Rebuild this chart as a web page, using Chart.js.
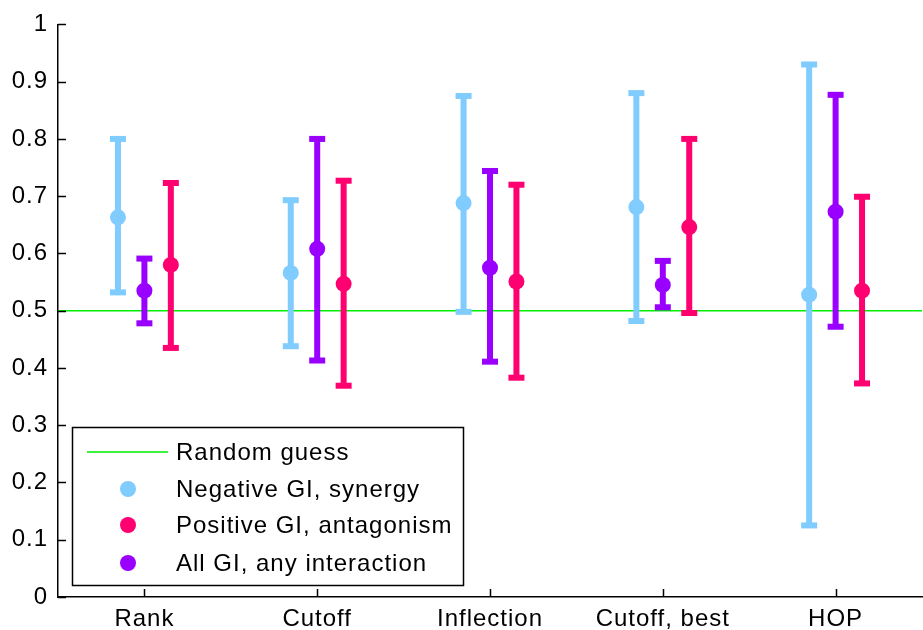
<!DOCTYPE html>
<html>
<head>
<meta charset="utf-8">
<script src="https://cdn.jsdelivr.net/npm/chart.js@4/dist/chart.umd.min.js"></script>
<style>
html,body{margin:0;padding:0;background:#fff;overflow:hidden}
#wrap{width:930px;height:630px;position:relative}
</style>
</head>
<body>
<div id="wrap"><canvas id="c" width="930" height="630"></canvas></div>
<script>
const categories=['Rank','Cutoff','Inflection','Cutoff, best','HOP'];
const yTicks=[0,0.1,0.2,0.3,0.4,0.5,0.6,0.7,0.8,0.9,1];
const randomGuess=0.5;

// series: mean, lower, upper
const negMean=[0.663,0.566,0.688,0.681,0.528];
const negLow =[0.532,0.438,0.498,0.482,0.125];
const negHigh=[0.800,0.693,0.875,0.880,0.930];

const posMean=[0.580,0.547,0.551,0.646,0.535];
const posLow =[0.435,0.369,0.383,0.496,0.373];
const posHigh=[0.723,0.727,0.720,0.800,0.699];

const allMean=[0.535,0.608,0.575,0.545,0.673];
const allLow =[0.478,0.413,0.411,0.506,0.472];
const allHigh=[0.591,0.800,0.744,0.587,0.877];

const FONT="'Liberation Sans', Arial, sans-serif";
const C_NEG='#80ccff', C_POS='#ff0070', C_ALL='#9900ff', C_RG='#00ee00';

function series(label,color,mean,lo,hi,off){
  return {label,type:'scatter',order:0,
    data:mean.map((v,i)=>({x:i+1+off,y:v})),
    lo:lo.map((v,i)=>({x:i+1+off,y:v})),
    hi:hi.map((v,i)=>({x:i+1+off,y:v})),
    backgroundColor:color,borderColor:color,pointRadius:8,pointHoverRadius:8,borderWidth:0};
}

const errPlugin={id:'err',
  beforeDraw(chart){ chart.ctx.letterSpacing='1px'; },
  beforeDatasetDraw(chart,args){
    const ds=chart.data.datasets[args.index]; if(!ds.lo) return;
    const {ctx,scales:{x,y}}=chart;
    ctx.save();ctx.fillStyle=ds.borderColor;
    ds.lo.forEach((p,i)=>{
      const px=x.getPixelForValue(p.x);
      const y1=y.getPixelForValue(p.y), y2=y.getPixelForValue(ds.hi[i].y);
      ctx.fillRect(px-3,y2,6,y1-y2);
      ctx.fillRect(px-8,y2-3,16,6);
      ctx.fillRect(px-8,y1-3,16,6);
    });
    ctx.restore();
  },
  afterDraw(chart){
    const {ctx,chartArea:{left,right,top,bottom},scales:{x,y}}=chart;
    ctx.save();
    // inward ticks
    ctx.strokeStyle='#000';ctx.lineWidth=1.5;ctx.beginPath();
    yTicks.forEach(t=>{const py=Math.round(y.getPixelForValue(t))+0.5;ctx.moveTo(left,py);ctx.lineTo(left+8,py);});
    categories.forEach((c,i)=>{const px=Math.round(x.getPixelForValue(i+1))+0.5;ctx.moveTo(px,bottom);ctx.lineTo(px,bottom-8);});
    ctx.stroke();
    // legend
    const lx=72,ly=427,lw=391,lh=158;
    ctx.fillStyle='#fff';ctx.fillRect(lx,ly,lw,lh);
    ctx.strokeStyle='#000';ctx.lineWidth=1.5;ctx.strokeRect(lx+0.5,ly+0.5,lw,lh);
    const rows=[452,489,525,563];
    ctx.font='24px '+FONT;ctx.textBaseline='middle';ctx.textAlign='left';ctx.letterSpacing='1px';
    chart.data.datasets.forEach((ds,i)=>{
      const ry=rows[i];
      if(ds.lo){
        ctx.fillStyle=ds.borderColor;ctx.beginPath();ctx.arc(128,ry,8,0,Math.PI*2);ctx.fill();
      }else{
        ctx.strokeStyle=ds.borderColor;ctx.lineWidth=1.5;ctx.beginPath();ctx.moveTo(87,ry);ctx.lineTo(168,ry);ctx.stroke();
      }
      ctx.fillStyle='#000';ctx.fillText(ds.label,176,ry+1);
    });
    ctx.restore();
  }
};

new Chart(document.getElementById('c'),{
  type:'scatter',
  data:{datasets:[
    {label:'Random guess',type:'line',order:10,data:[{x:0.5,y:randomGuess},{x:5.5,y:randomGuess}],
      borderColor:C_RG,backgroundColor:C_RG,borderWidth:1.5,pointRadius:0,fill:false},
    series('Negative GI, synergy',C_NEG,negMean,negLow,negHigh,-0.153),
    series('Positive GI, antagonism',C_POS,posMean,posLow,posHigh,0.153),
    series('All GI, any interaction',C_ALL,allMean,allLow,allHigh,0)
  ]},
  options:{
    responsive:false,animation:false,
    layout:{padding:{top:24,right:2,left:0,bottom:0}},
    plugins:{legend:{display:false},tooltip:{enabled:false}},
    scales:{
      x:{type:'linear',min:0.5,max:5.5,
        afterBuildTicks(s){s.ticks=categories.map((c,i)=>({value:i+1}));},
        afterFit(s){s.height=33;},
        grid:{display:false,drawTicks:false},
        border:{display:true,color:'#000',width:1.5},
        ticks:{color:'#000',padding:8,maxRotation:0,autoSkip:false,font:{family:FONT,size:24},
          callback:(v)=>categories[Math.round(v)-1]||''}},
      y:{min:0,max:1,
        afterBuildTicks(s){s.ticks=yTicks.map(v=>({value:v}));},
        afterFit(s){s.width=58;},
        grid:{display:false,drawTicks:false},
        border:{display:true,color:'#000',width:1.5},
        ticks:{color:'#000',padding:10,autoSkip:false,font:{family:FONT,size:24},
          callback:(v)=>String(Math.round(v*10)/10)}}
    }
  },
  plugins:[errPlugin]
});
</script>
</body>
</html>
